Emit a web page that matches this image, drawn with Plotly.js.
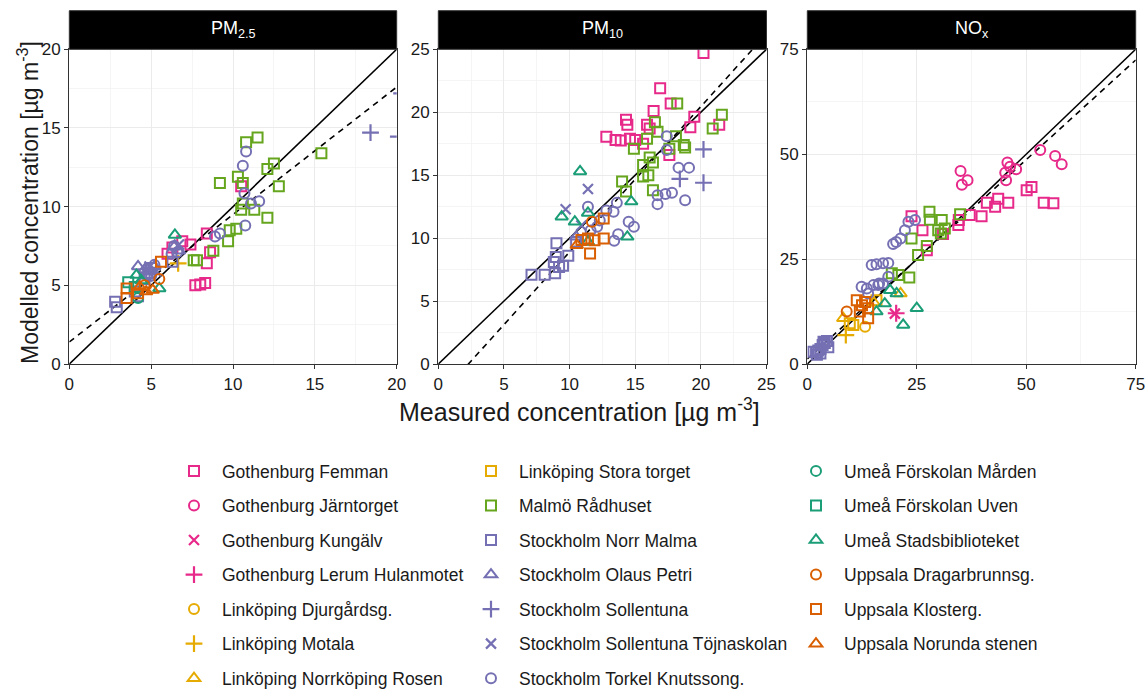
<!DOCTYPE html>
<html>
<head>
<meta charset="utf-8">
<script src="https://cdn.plot.ly/plotly-3.0.1.min.js"></script>
<style>html,body{margin:0;padding:0;background:#fff;overflow:hidden;} #chart{width:1148px;height:689px;}</style>
</head>
<body>
<div id="chart"></div>
<script>
// ---- Stations (legend order), colours and symbols ----
const stationNames = [
  "Gothenburg Femman", "Gothenburg Järntorget", "Gothenburg Kungälv", "Gothenburg Lerum Hulanmotet",
  "Linköping Djurgårdsg.", "Linköping Motala", "Linköping Norrköping Rosen",
  "Linköping Stora torget", "Malmö Rådhuset", "Stockholm Norr Malma", "Stockholm Olaus Petri",
  "Stockholm Sollentuna", "Stockholm Sollentuna Töjnaskolan", "Stockholm Torkel Knutssong.",
  "Umeå Förskolan Mården", "Umeå Förskolan Uven", "Umeå Stadsbiblioteket",
  "Uppsala Dragarbrunnsg.", "Uppsala Klosterg.", "Uppsala Norunda stenen"
];
const stationColors = [
  "#E7298A", "#E7298A", "#E7298A", "#E7298A",
  "#E6AB02", "#E6AB02", "#E6AB02",
  "#E6AB02", "#66A61E", "#7570B3", "#7570B3", "#7570B3", "#7570B3", "#7570B3",
  "#1B9E77", "#1B9E77", "#1B9E77",
  "#D95F02", "#D95F02", "#D95F02"
];
const stationSymbols = [
  "square-open", "circle-open", "x-thin-open", "cross-thin-open",
  "circle-open", "cross-thin-open", "triangle-up-open",
  "square-open", "square-open", "square-open", "triangle-up-open", "cross-thin-open", "x-thin-open", "circle-open",
  "circle-open", "square-open", "triangle-up-open",
  "circle-open", "square-open", "triangle-up-open"
];

// ---- Panels ----
const panelLabels = ["PM<sub>2.5</sub>", "PM<sub>10</sub>", "NO<sub>x</sub>"];
const panelMax = [20, 25, 75];
const panelTicks = [[0, 5, 10, 15, 20], [0, 5, 10, 15, 20, 25], [0, 25, 50, 75]];
// regression (dashed) lines: modelled = slope * measured + intercept
const fitSlope = [0.81, 1.155, 0.95];
const fitIntercept = [1.4, -2.65, 1.2];

// ---- Data [measured, modelled] ----
// PM2.5
const femman_pm25 = [[6.3,7.4],[6.9,7.8],[7.4,7.6],[8.4,8.3],[8.6,7.1],[8.4,6.4],[7.7,5.0],[8.0,5.05],[8.3,5.15],[10.5,11.3],[6.0,7.0]];
const motala_pm25 = [[6.65,6.4]];
const malmo_pm25 = [[9.2,11.5],[10.8,14.1],[11.5,14.4],[15.4,13.4],[10.3,11.9],[10.6,11.5],[12.1,12.4],[12.5,12.75],[12.8,11.3],[10.6,10.2],[10.5,9.8],[11.3,9.8],[12.1,9.3],[9.8,8.5],[10.2,8.6],[9.7,7.8],[8.8,7.2],[7.8,6.6],[7.6,6.6]];
const norrmalma_pm25 = [[2.8,3.95],[2.9,3.6],[4.2,4.3],[4.0,4.6],[4.6,5.4],[5.0,6.1],[6.3,6.5],[4.9,5.8]];
const olaus_pm25 = [[4.2,6.2],[4.6,6.0],[6.4,7.45],[6.7,7.2],[4.8,5.6],[5.2,6.2]];
const sollentuna_pm25 = [[18.4,14.7],[20.1,14.45],[20.3,17.2]];
const tojna_pm25 = [[4.9,6.2],[5.3,5.9],[6.7,7.6],[4.5,5.6]];
const torkel_pm25 = [[10.8,13.5],[10.6,12.6],[10.7,10.85],[11.1,10.2],[11.6,10.35],[10.75,8.8],[8.9,8.1],[9.2,8.3],[6.4,7.5],[6.25,7.0],[4.8,6.0],[5.2,6.3],[5.0,5.6],[6.6,7.1]];
const marden_pm25 = [[4.2,4.2]];
const uven_pm25 = [[3.6,5.2],[4.0,4.9]];
const stads_pm25 = [[6.45,8.2],[5.5,4.8],[4.1,5.65],[4.4,5.3]];
const dragar_pm25 = [[5.5,5.4],[4.6,5.0]];
const kloster_pm25 = [[3.5,4.8],[3.5,4.2],[5.6,6.5],[4.2,4.5]];
const norunda_pm25 = [[4.7,4.6],[5.1,4.7],[4.3,4.9]];
// PM10
const femman_pm10 = [[20.2,24.7],[16.9,21.9],[17.7,20.7],[16.4,20.1],[19.5,19.65],[21.4,19.0],[19.2,18.8],[15.9,19.0],[16.1,18.7],[14.3,19.4],[14.4,19.0],[12.8,18.05],[13.5,17.8],[13.9,17.75],[14.6,17.9],[15.0,17.8],[15.6,17.5],[17.6,16.6]];
const malmo_pm10 = [[18.2,20.7],[21.6,19.8],[20.9,18.7],[16.5,19.2],[16.7,18.45],[15.9,17.9],[14.9,17.1],[18.1,18.1],[18.7,17.4],[18.8,17.2],[17.6,17.1],[16.1,16.4],[15.6,15.8],[16.35,16.0],[15.6,14.9],[16.0,15.0],[14.0,14.5],[14.3,13.7],[16.35,13.8]];
const torkel_pm10 = [[17.4,18.1],[17.4,17.0],[18.3,15.6],[19.1,15.6],[18.8,13.0],[16.7,13.4],[16.7,12.7],[17.3,13.5],[17.8,13.6],[14.5,11.3],[14.9,10.9],[13.7,10.3],[13.4,9.8],[11.4,12.5],[13.6,12.8],[13.35,12.1],[12.8,12.2],[12.3,11.4],[12.1,10.9],[11.6,10.6],[11.2,9.85]];
const sollentuna_pm10 = [[20.2,17.05],[20.2,14.4],[18.4,14.7]];
const tojna_pm10 = [[11.4,13.9],[9.7,12.3],[10.9,11.0]];
const norrmalma_pm10 = [[7.1,7.1],[8.1,7.1],[8.9,7.2],[9.0,9.6],[8.95,8.5],[9.2,7.7],[9.5,7.8],[9.9,8.6],[10.5,9.7],[8.8,8.1]];
const olaus_pm10 = [[10.5,10.1]];
const stads_pm10 = [[10.8,15.3],[9.4,11.7],[10.4,11.3],[11.4,12.0],[14.7,12.9],[14.4,10.1],[11.4,9.7]];
const kloster_pm10 = [[12.6,11.55],[11.4,9.97],[11.9,9.84],[12.6,9.97],[11.56,8.78],[10.9,9.85]];
const dragar_pm10 = [[11.7,11.3]];
const norunda_pm10 = [[10.55,9.44]];
// NOx
const jarn_nox = [[53.2,51.0],[56.6,49.6],[58.1,47.6],[45.7,48.0],[45.2,45.6],[45.4,43.8],[47.7,46.4],[46.3,47.0],[35.0,46.0],[36.6,43.8],[35.3,42.7]];
const femman_nox = [[50.1,41.4],[51.2,42.2],[54.0,38.4],[56.2,38.3],[45.9,38.4],[43.6,39.4],[42.9,37.5],[41.0,38.4],[39.8,35.2],[37.1,35.5],[34.5,33.1],[34.6,34.3],[31.0,31.0],[27.3,27.1],[26.3,31.9],[23.8,35.2]];
const kungalv_nox = [[20.0,12.0]];
const lerum_nox = [[20.3,12.1]];
const djurg_nox = [[13.2,8.9]];
const motala_nox = [[8.8,6.9]];
const rosen_nox = [[8.2,10.9],[21.3,16.8],[15.2,14.6]];
const stora_nox = [[9.7,9.7],[10.5,9.3],[15.8,15.2]];
const malmo_nox = [[27.9,36.3],[28.0,34.4],[30.7,34.3],[31.4,32.3],[29.9,31.9],[34.9,35.7],[23.8,29.9],[27.3,28.1],[25.3,26.0],[20.8,21.2],[23.3,20.6],[19.3,21.6],[30.5,31.1]];
const norrmalma_nox = [[2.0,2.8],[2.5,3.2],[3.0,3.6],[3.5,4.5],[4.0,5.0],[4.5,5.5],[3.0,2.5],[2.2,2.2],[4.8,4.0],[3.7,5.3],[1.4,2.9]];
const torkel_nox = [[24.6,34.3],[23.1,33.9],[22.3,31.9],[21.3,29.9],[20.3,29.1],[19.6,28.6],[18.5,20.8],[14.7,23.6],[15.8,23.8],[17.3,24.0],[18.5,24.1],[16.4,19.2],[15.1,18.8],[13.6,18.0],[12.4,18.4],[13.9,16.8],[16.2,18.8],[17.3,19.2]];
const stads_nox = [[18.9,17.6],[20.4,16.8],[17.7,14.4],[25.0,13.3],[21.9,9.3],[15.8,12.5]];
const dragar_nox = [[9.0,12.5]];
const kloster_nox = [[11.3,15.2],[13.2,14.8],[13.9,13.3],[13.9,10.9],[12.0,12.5],[12.5,14.0]];

// station index -> [pm25, pm10, nox]
const stationData = [
  [femman_pm25, femman_pm10, femman_nox],
  [[], [], jarn_nox],
  [[], [], kungalv_nox],
  [[], [], lerum_nox],
  [[], [], djurg_nox],
  [motala_pm25, [], motala_nox],
  [[], [], rosen_nox],
  [[], [], stora_nox],
  [malmo_pm25, malmo_pm10, malmo_nox],
  [norrmalma_pm25, norrmalma_pm10, norrmalma_nox],
  [olaus_pm25, olaus_pm10, []],
  [sollentuna_pm25, sollentuna_pm10, []],
  [tojna_pm25, tojna_pm10, []],
  [torkel_pm25, torkel_pm10, torkel_nox],
  [marden_pm25, [], []],
  [uven_pm25, [], []],
  [stads_pm25, stads_pm10, stads_nox],
  [dragar_pm25, dragar_pm10, dragar_nox],
  [kloster_pm25, kloster_pm10, kloster_nox],
  [norunda_pm25, norunda_pm10, []]
];

// ---- Geometry ----
const W = 1148, H = 689;
const xDomains = [[69.3/W, 396.7/W], [438.3/W, 766.5/W], [807.3/W, 1135.7/W]];
const yDomain = [(H-364)/H, (H-49.3)/H];
const stripTop = (H-10.7)/H;
const FONT = "Liberation Sans, Arial, Helvetica, sans-serif";
const TXT = "#1a1a1a";

const traces = [];
// reference lines first (drawn below markers)
for (let p = 0; p < 3; p++) {
  const ax = p === 0 ? "" : String(p+1);
  const xs = [0, panelMax[p]];
  traces.push({x: xs, y: xs, xaxis: "x"+ax, yaxis: "y"+ax, mode: "lines",
    line: {color: "#000", width: 1.6}, showlegend: false, hoverinfo: "skip"});
  traces.push({x: xs, y: xs.map(v => fitSlope[p]*v + fitIntercept[p]), xaxis: "x"+ax, yaxis: "y"+ax, mode: "lines",
    line: {color: "#000", width: 1.6, dash: "6px,5px"}, showlegend: false, hoverinfo: "skip"});
}

stationNames.forEach((name, i) => {
  const legendId = i < 7 ? "legend" : (i < 14 ? "legend2" : "legend3");
  let shown = false;
  const sym = stationSymbols[i];
  const thin = sym.indexOf("thin") >= 0;
  const size = sym.startsWith("triangle") ? 11 : (sym.startsWith("cross") ? 12 : 10);
  for (let p = 0; p < 3; p++) {
    const pts = stationData[i][p];
    if (!pts.length) continue;
    const ax = p === 0 ? "" : String(p+1);
    traces.push({
      x: pts.map(d => d[0]), y: pts.map(d => d[1]),
      xaxis: "x"+ax, yaxis: "y"+ax, mode: "markers", type: "scatter",
      name: name, legend: legendId, legendgroup: "g"+i, showlegend: !shown,
      marker: {symbol: sym, size: size, color: stationColors[i],
        line: {color: stationColors[i], width: thin ? 2.2 : 2}}
    });
    shown = true;
  }
});

const axisCommon = {
  showline: true, mirror: true, linecolor: "#333", linewidth: 1.2,
  ticks: "outside", ticklen: 4, tickwidth: 1, tickcolor: "#333",
  showgrid: true, gridcolor: "#ebebeb", gridwidth: 1,
  zeroline: false, tickfont: {family: FONT, size: 17, color: TXT},
  fixedrange: true, automargin: false
};

const layout = {
  width: W, height: H, margin: {l: 0, r: 0, t: 0, b: 0, autoexpand: false},
  paper_bgcolor: "#fff", plot_bgcolor: "#fff",
  font: {family: FONT, color: TXT},
  showlegend: true,
  shapes: [], annotations: []
};
for (let p = 0; p < 3; p++) {
  const ax = p === 0 ? "" : String(p+1);
  const step = panelTicks[p][1] - panelTicks[p][0];
  layout["xaxis"+ax] = Object.assign({}, axisCommon, {
    domain: xDomains[p], range: [0, panelMax[p]], tickvals: panelTicks[p], anchor: "y"+ax,
    minor: {showgrid: true, gridcolor: "#f3f3f3", gridwidth: 0.8, dtick: step/2, tick0: step/2, ticks: ""}
  });
  layout["yaxis"+ax] = Object.assign({}, axisCommon, {
    domain: yDomain, range: [0, panelMax[p]], tickvals: panelTicks[p], anchor: "x"+ax,
    minor: {showgrid: true, gridcolor: "#f3f3f3", gridwidth: 0.8, dtick: step/2, tick0: step/2, ticks: ""}
  });
  layout.shapes.push({type: "rect", xref: "paper", yref: "paper",
    x0: xDomains[p][0], x1: xDomains[p][1], y0: yDomain[1], y1: stripTop,
    fillcolor: "#000", line: {color: "#333", width: 1}});
  layout.annotations.push({xref: "paper", yref: "paper", x: (xDomains[p][0]+xDomains[p][1])/2,
    y: (yDomain[1]+stripTop)/2, text: panelLabels[p], showarrow: false,
    font: {family: FONT, size: 18, color: "#fff"}, xanchor: "center", yanchor: "middle"});
}
layout.annotations.push({xref: "paper", yref: "paper", x: 579/W, y: (H-410)/H,
  text: "Measured concentration [µg m<sup>-3</sup>]", showarrow: false,
  font: {family: FONT, size: 25, color: TXT}, xanchor: "center", yanchor: "middle"});
layout.annotations.push({xref: "paper", yref: "paper", x: 28/W, y: (H-203)/H,
  text: "Modelled concentration [µg m<sup>-3</sup>]", showarrow: false, textangle: -90,
  font: {family: FONT, size: 23, color: TXT}, xanchor: "center", yanchor: "middle"});

const legendCommon = {
  orientation: "v", yanchor: "top", xanchor: "left", xref: "container", yref: "container",
  y: (H-453)/H,
  font: {family: FONT, size: 17.5, color: TXT}, bgcolor: "rgba(0,0,0,0)",
  tracegroupgap: 8.8, itemwidth: 46, itemclick: false, itemdoubleclick: false
};
layout.legend = Object.assign({}, legendCommon, {x: 166/W});
layout.legend2 = Object.assign({}, legendCommon, {x: 463/W});
layout.legend3 = Object.assign({}, legendCommon, {x: 788/W});

Plotly.newPlot("chart", traces, layout, {displayModeBar: false, staticPlot: true});
</script>
</body>
</html>
